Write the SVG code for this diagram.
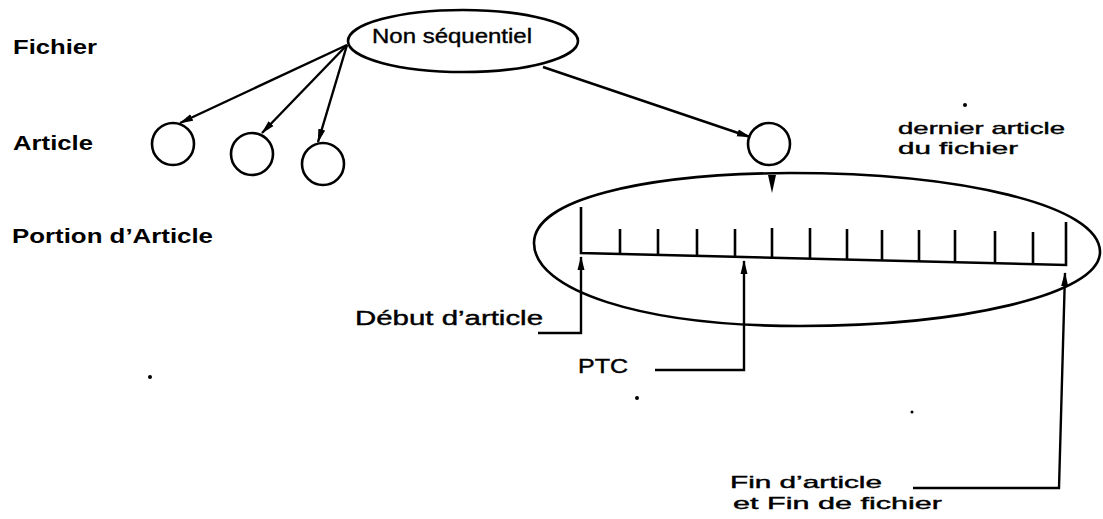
<svg xmlns="http://www.w3.org/2000/svg" width="1103" height="519" viewBox="0 0 1103 519">
<style>
.bg{fill:#fff}
.shape{fill:none;stroke:#000;stroke-width:2.6}
.conn{fill:none;stroke:#000;stroke-width:2.4}
.tick{stroke:#000;stroke-width:2.6;fill:none}
.lbl{font-family:"Liberation Sans",Arial,sans-serif;font-weight:bold;font-size:21px;fill:#000}
.txt{font-family:"Liberation Sans",Arial,sans-serif;font-size:20px;fill:#000;stroke:#000;stroke-width:0.4}
.sm{font-size:17px}
.dot{fill:#000}
</style>
<defs>
<marker id="ah" markerUnits="userSpaceOnUse" markerWidth="14" markerHeight="8" refX="13" refY="4" orient="auto">
<path d="M0,0.5 L14,4 L0,7.5 Z" fill="#000"/>
</marker>
</defs>
<rect class="bg" x="0" y="0" width="1103" height="519"/>

<g id="levels">
<text class="lbl" x="13" y="54" textLength="84" lengthAdjust="spacingAndGlyphs">Fichier</text>
<text class="lbl" x="13" y="150" textLength="80" lengthAdjust="spacingAndGlyphs">Article</text>
<text class="lbl" x="12" y="243" textLength="201" lengthAdjust="spacingAndGlyphs">Portion d’Article</text>
</g>

<g id="file">
<ellipse class="shape" cx="463" cy="41" rx="115" ry="31"/>
<text class="txt" x="372" y="43" textLength="160" lengthAdjust="spacingAndGlyphs" style="font-size:21px">Non séquentiel</text>
</g>

<g id="article1"><circle class="shape" cx="173" cy="144" r="21"/></g>
<g id="article2"><circle class="shape" cx="252" cy="154" r="21"/></g>
<g id="article3"><circle class="shape" cx="323" cy="164" r="21"/></g>
<g id="article4"><circle class="shape" cx="769" cy="144" r="21"/></g>

<g id="last-label">
<text class="txt sm" x="898" y="134" textLength="167" lengthAdjust="spacingAndGlyphs">dernier article</text>
<text class="txt sm" x="898" y="154" textLength="120" lengthAdjust="spacingAndGlyphs">du fichier</text>
</g>

<g id="portion">
<path class="shape" d="M534,243 C534,200 640,174 790,173 C960,173 1100,205 1100,252 C1100,295 960,326 800,326 C640,326 534,290 534,243 Z"/>
<path d="M768,175 L776,175 L772,193 Z" fill="#000"/>
<path class="tick" d="M581,207 L581,253 L1066,265 L1066,222"/>
<g class="tick">
<line x1="620" y1="229" x2="620" y2="254"/>
<line x1="658" y1="229" x2="658" y2="255"/>
<line x1="697" y1="229" x2="697" y2="256"/>
<line x1="735" y1="229" x2="735" y2="257"/>
<line x1="772" y1="228" x2="772" y2="258"/>
<line x1="810" y1="228" x2="810" y2="259"/>
<line x1="847" y1="229" x2="847" y2="260"/>
<line x1="882" y1="230" x2="882" y2="261"/>
<line x1="919" y1="230" x2="919" y2="262"/>
<line x1="955" y1="230" x2="955" y2="263"/>
<line x1="995" y1="231" x2="995" y2="264"/>
<line x1="1033" y1="232" x2="1033" y2="265"/>
</g>
</g>

<g id="debut">
<text class="txt" x="355" y="325" textLength="188" lengthAdjust="spacingAndGlyphs">Début d’article</text>
</g>
<g id="ptc">
<text class="txt" x="578" y="373" textLength="50" lengthAdjust="spacingAndGlyphs">PTC</text>
</g>
<g id="fin">
<text class="txt sm" x="730" y="488" textLength="152" lengthAdjust="spacingAndGlyphs">Fin d’article</text>
<text class="txt sm" x="733" y="509" textLength="209" lengthAdjust="spacingAndGlyphs">et Fin de fichier</text>
</g>

<g id="connectors">
<line class="conn" x1="347" y1="45" x2="180" y2="123" marker-end="url(#ah)"/>
<line class="conn" x1="347" y1="45" x2="262" y2="133" marker-end="url(#ah)"/>
<line class="conn" x1="347" y1="45" x2="318" y2="142" marker-end="url(#ah)"/>
<line class="conn" x1="543" y1="67" x2="750" y2="137" marker-end="url(#ah)"/>
<polyline class="conn" points="538,333 581,333 581,257" marker-end="url(#ah)"/>
<polyline class="conn" points="655,370 744,370 744,261" marker-end="url(#ah)"/>
<polyline class="conn" points="913,488 1059,488 1065,273" marker-end="url(#ah)"/>
</g>

<g id="specks">
<circle class="dot" cx="965" cy="105" r="2"/>
<circle class="dot" cx="150" cy="377" r="2"/>
<circle class="dot" cx="637" cy="398" r="2"/>
<circle class="dot" cx="912" cy="412" r="1.5"/>
</g>
</svg>
